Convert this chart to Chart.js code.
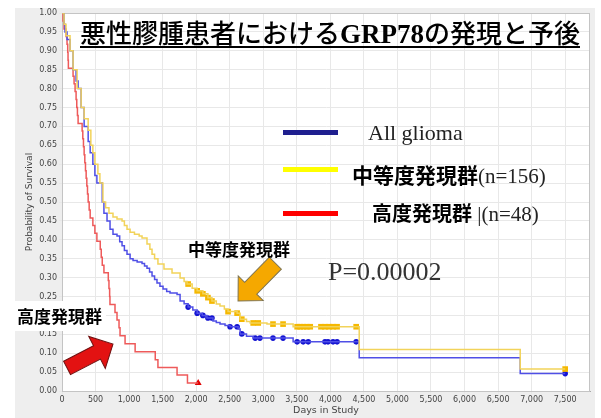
<!DOCTYPE html>
<html>
<head>
<meta charset="utf-8">
<script src="https://cdn.jsdelivr.net/npm/chart.js@4.4.0/dist/chart.umd.min.js"></script>
<style>
  body { margin: 0; background: #fff; }
  canvas { display: block; }
</style>
</head>
<body>
<canvas id="km-chart" width="601" height="418"></canvas>
<script>
// Kaplan-Meier curves (days in study, probability of survival)
const allDays = [0, 30, 45, 75, 120, 165, 210, 240, 285, 330, 390, 420, 460, 490, 520, 600, 625, 671, 716, 760,
  820, 860, 895, 930, 969, 1015, 1059, 1120, 1193, 1230, 1267, 1305, 1342, 1380, 1416, 1460, 1506, 1560, 1610,
  1715, 1760, 1820, 1880, 1950, 2015, 2090, 2160, 2250, 2300, 2355, 2430, 2505, 2625, 2655, 2750, 2850, 3445,
  4430, 6830, 7500];
const allSurv = [1.0, 0.97, 0.95, 0.93, 0.90, 0.85, 0.82, 0.80, 0.75, 0.70, 0.66, 0.63, 0.60, 0.57, 0.55, 0.50, 0.47, 0.45, 0.428, 0.415,
  0.41, 0.395, 0.384, 0.372, 0.362, 0.35, 0.345, 0.341, 0.337, 0.331, 0.325, 0.315, 0.304, 0.295, 0.286, 0.277, 0.27, 0.263, 0.259,
  0.255, 0.238, 0.231, 0.222, 0.214, 0.206, 0.2, 0.193, 0.185, 0.181, 0.177, 0.173, 0.17, 0.164, 0.151, 0.145, 0.14, 0.13,
  0.088, 0.046, 0.046];
const allCensorDays = [1880, 2015, 2100, 2175, 2235, 2505, 2610, 2680, 2880, 2950, 3145, 3295, 3505, 3595, 3670,
  3920, 3965, 4040, 4100, 4385, 7500];

const midDays = [0, 30, 60, 120, 165, 225, 285, 330, 390, 430, 460, 490, 535, 565, 610, 650, 700, 760, 820, 895,
  930, 969, 1015, 1080, 1150, 1193, 1267, 1310, 1342, 1380, 1430, 1520, 1640, 1760, 1820, 1864, 1940, 2015, 2100,
  2175, 2235, 2300, 2355, 2420, 2475, 2610, 2655, 2750, 2805, 3055, 3445, 4430, 6830, 7500];
const midSurv = [1.0, 0.97, 0.94, 0.90, 0.85, 0.80, 0.75, 0.72, 0.69, 0.65, 0.63, 0.60, 0.575, 0.55, 0.50, 0.485, 0.47, 0.46, 0.455, 0.45,
  0.438, 0.428, 0.42, 0.415, 0.41, 0.405, 0.389, 0.375, 0.362, 0.35, 0.336, 0.323, 0.312, 0.299, 0.29, 0.283, 0.272, 0.265, 0.257,
  0.247, 0.238, 0.23, 0.225, 0.217, 0.21, 0.206, 0.19, 0.184, 0.18, 0.177, 0.17, 0.11, 0.058, 0.058];
const midCensorDays = [1880, 2015, 2100, 2175, 2235, 2475, 2610, 2680, 2850, 2925, 3145, 3295, 3505, 3550, 3600,
  3650, 3700, 3860, 3920, 3980, 4040, 4100, 4385, 7500];

const highDays = [0, 15, 30, 60, 75, 85, 90, 95, 165, 180, 195, 210, 220, 230, 240, 300, 310, 320, 330, 340,
  350, 360, 370, 380, 390, 405, 420, 460, 490, 520, 570, 585, 600, 625, 690, 700, 710, 715, 790, 820,
  850, 865, 940, 1090, 1390, 1430, 1715, 1870, 2030];
const highSurv = [1.0, 0.979, 0.958, 0.938, 0.917, 0.896, 0.875, 0.854, 0.833, 0.813, 0.792, 0.771, 0.75, 0.729, 0.708, 0.688, 0.667, 0.646, 0.625, 0.604,
  0.583, 0.563, 0.542, 0.521, 0.5, 0.479, 0.458, 0.438, 0.417, 0.396, 0.375, 0.354, 0.333, 0.313, 0.292, 0.271, 0.25, 0.229, 0.208, 0.188,
  0.167, 0.146, 0.125, 0.104, 0.083, 0.0625, 0.042, 0.021, 0.021];
const highCensorDays = [2030];

const xTicks = [0, 500, 1000, 1500, 2000, 2500, 3000, 3500, 4000, 4500, 5000, 5500, 6000, 6500, 7000, 7500];

const seriesLabels = ['All glioma', '中等度発現群', '高度発現群'];

// survival value of a step curve at time t
const stepValue = (days, surv, t) => {
  let v = surv[0];
  for (let i = 0; i < days.length; i++) {
    if (days[i] <= t) v = surv[i];
  }
  return v;
};

const toPoints = (days, surv) => days.map((d, i) => ({ x: d, y: surv[i] }));
const censorPoints = (cDays, days, surv) => cDays.map((d) => ({ x: d, y: stepValue(days, surv, d) }));

// grey panel, white plot area and plot outline
const panelPlugin = {
  id: 'panel',
  beforeDraw(chart) {
    const { ctx, chartArea: a } = chart;
    ctx.save();
    ctx.fillStyle = '#ffffff';
    ctx.fillRect(0, 0, chart.width, chart.height);
    ctx.fillStyle = '#eeeeee';
    ctx.fillRect(15, 8, 580, 410);
    ctx.fillStyle = '#ffffff';
    ctx.fillRect(a.left, a.top, a.right - a.left, a.bottom - a.top);
    ctx.restore();
  },
  beforeDatasetsDraw(chart) {
    const { ctx, chartArea: a } = chart;
    ctx.save();
    ctx.strokeStyle = '#c4c4c4';
    ctx.lineWidth = 1;
    ctx.strokeRect(a.left + 0.5, a.top + 0.5, a.right - a.left - 1, a.bottom - a.top);
    ctx.restore();
  }
};

function blockArrow(ctx, x0, y0, x1, y1, shaft, head, headLen, fill, stroke) {
  const ang = Math.atan2(y1 - y0, x1 - x0);
  const len = Math.hypot(x1 - x0, y1 - y0);
  ctx.save();
  ctx.translate(x0, y0);
  ctx.rotate(ang);
  ctx.beginPath();
  ctx.moveTo(0, -shaft / 2);
  ctx.lineTo(len - headLen, -shaft / 2);
  ctx.lineTo(len - headLen, -head / 2);
  ctx.lineTo(len, 0);
  ctx.lineTo(len - headLen, head / 2);
  ctx.lineTo(len - headLen, shaft / 2);
  ctx.lineTo(0, shaft / 2);
  ctx.closePath();
  ctx.fillStyle = fill;
  ctx.fill();
  ctx.strokeStyle = stroke;
  ctx.lineWidth = 1;
  ctx.stroke();
  ctx.restore();
}

function drawRuns(ctx, x, y, runs) {
  for (const [text, font, color] of runs) {
    ctx.font = font;
    ctx.fillStyle = color || '#000';
    ctx.fillText(text, x, y);
    x += ctx.measureText(text).width;
  }
  return x;
}

const jp = '"Noto Sans CJK JP", sans-serif';
const serif = '"Liberation Serif", "Times New Roman", serif';

// title, legend, labels and arrows
const overlayPlugin = {
  id: 'overlay',
  afterDraw(chart) {
    const ctx = chart.ctx;
    const xs = chart.scales.x;
    const ys = chart.scales.y;
    const px = (d) => xs.getPixelForValue(d);
    const py = (s) => ys.getPixelForValue(s);
    ctx.save();
    ctx.textBaseline = 'alphabetic';

    // title
    const titleEnd = drawRuns(ctx, 80, 43, [
      ['悪性膠腫患者における', '500 26px ' + jp],
      ['GRP78', 'bold 27px ' + serif],
      ['の発現と予後', '500 26px ' + jp]
    ]);
    ctx.fillStyle = '#000';
    ctx.fillRect(80, 46, titleEnd - 80, 2);

    // legend
    const legendRows = [
      { color: '#1f1f8f', y: 132 },
      { color: '#ffff00', y: 169 },
      { color: '#ff0000', y: 213 }
    ];
    legendRows.forEach((r) => {
      ctx.fillStyle = r.color;
      ctx.fillRect(283, r.y - 2, 55, 5);
    });
    drawRuns(ctx, 368, 140, [[seriesLabels[0], '22px ' + serif, '#222']]);
    drawRuns(ctx, 352, 183, [[seriesLabels[1], 'bold 21px ' + jp], ['(n=156)', '21px ' + serif, '#222']]);
    drawRuns(ctx, 372, 221, [[seriesLabels[2], 'bold 20px ' + jp], [' |(n=48)', '21px ' + serif, '#222']]);

    // p value
    drawRuns(ctx, 328, 280, [['P=0.00002', '26px ' + serif, '#333']]);

    // arrows
    blockArrow(ctx, px(75), py(0.061), px(760), py(0.124), 15, 36, 18, '#e31212', '#6e1010');
    blockArrow(ctx, px(3180), py(0.338), px(2624), py(0.238), 17, 35, 18, '#f5a800', '#7d7350');

    // group labels
    drawRuns(ctx, 188, 256, [['中等度発現群', 'bold 17px ' + jp]]);
    ctx.fillStyle = '#ffffff';
    ctx.fillRect(15, 301, 91, 30);
    drawRuns(ctx, 17, 323, [['高度発現群', 'bold 17px ' + jp]]);
    ctx.restore();
  }
};

const tickFont = { family: 'DejaVu Sans', size: 8 };

new Chart(document.getElementById('km-chart'), {
  type: 'line',
  data: {
    datasets: [
      {
        label: seriesLabels[1],
        data: toPoints(midDays, midSurv),
        borderColor: '#f2d35a',
        borderWidth: 1.5,
        stepped: true,
        pointRadius: 0,
        fill: false
      },
      {
        label: seriesLabels[0],
        data: toPoints(allDays, allSurv),
        borderColor: '#4f4fe6',
        borderWidth: 1.5,
        stepped: true,
        pointRadius: 0,
        fill: false
      },
      {
        label: seriesLabels[2],
        data: toPoints(highDays, highSurv),
        borderColor: '#ee5a5a',
        borderWidth: 1.5,
        stepped: true,
        pointRadius: 0,
        fill: false
      },
      {
        label: 'censored mid',
        data: censorPoints(midCensorDays, midDays, midSurv),
        showLine: false,
        pointStyle: 'rect',
        pointRadius: 4,
        pointBackgroundColor: '#f5b800',
        pointBorderColor: '#f0b000',
        pointBorderWidth: 0
      },
      {
        label: 'censored all',
        data: censorPoints(allCensorDays, allDays, allSurv),
        showLine: false,
        pointStyle: 'circle',
        pointRadius: 2.8,
        pointBackgroundColor: '#1414d2',
        pointBorderColor: '#1414d2',
        pointBorderWidth: 0
      },
      {
        label: 'censored high',
        data: censorPoints(highCensorDays, highDays, highSurv),
        showLine: false,
        pointStyle: 'triangle',
        pointRadius: 4,
        pointBackgroundColor: '#e00000',
        pointBorderColor: '#e00000',
        pointBorderWidth: 0
      }
    ]
  },
  options: {
    responsive: false,
    animation: false,
    events: [],
    layout: { padding: { left: 15, top: 13, right: 11, bottom: 0 } },
    plugins: {
      legend: { display: false },
      tooltip: { enabled: false }
    },
    scales: {
      x: {
        type: 'linear',
        min: 0,
        max: 7870,
        afterBuildTicks: (scale) => {
          scale.ticks = xTicks.map((v) => ({ value: v }));
        },
        afterFit: (scale) => { scale.height = 27; },
        ticks: {
          autoSkip: false,
          maxRotation: 0,
          padding: 1,
          font: tickFont,
          color: '#444',
          callback: (v) => v.toLocaleString('en-US')
        },
        grid: { color: '#e8e8e8', tickLength: 3 },
        border: { color: '#a8a8a8' },
        title: {
          display: true,
          text: 'Days in Study',
          color: '#444',
          font: { family: 'DejaVu Sans', size: 9.5 },
          padding: { top: 0, bottom: 2 }
        }
      },
      y: {
        min: 0,
        max: 1,
        afterFit: (scale) => { scale.width = 47; },
        ticks: {
          stepSize: 0.05,
          autoSkip: false,
          padding: 2,
          font: tickFont,
          color: '#444',
          callback: (v) => v.toFixed(2)
        },
        grid: { color: '#e8e8e8', tickLength: 3 },
        border: { color: '#a0a0a0' },
        title: {
          display: true,
          text: 'Probability of Survival',
          color: '#444',
          font: { family: 'DejaVu Sans', size: 9 },
          padding: { top: 9, bottom: 0 }
        }
      }
    }
  },
  plugins: [panelPlugin, overlayPlugin]
});
</script>
</body>
</html>
